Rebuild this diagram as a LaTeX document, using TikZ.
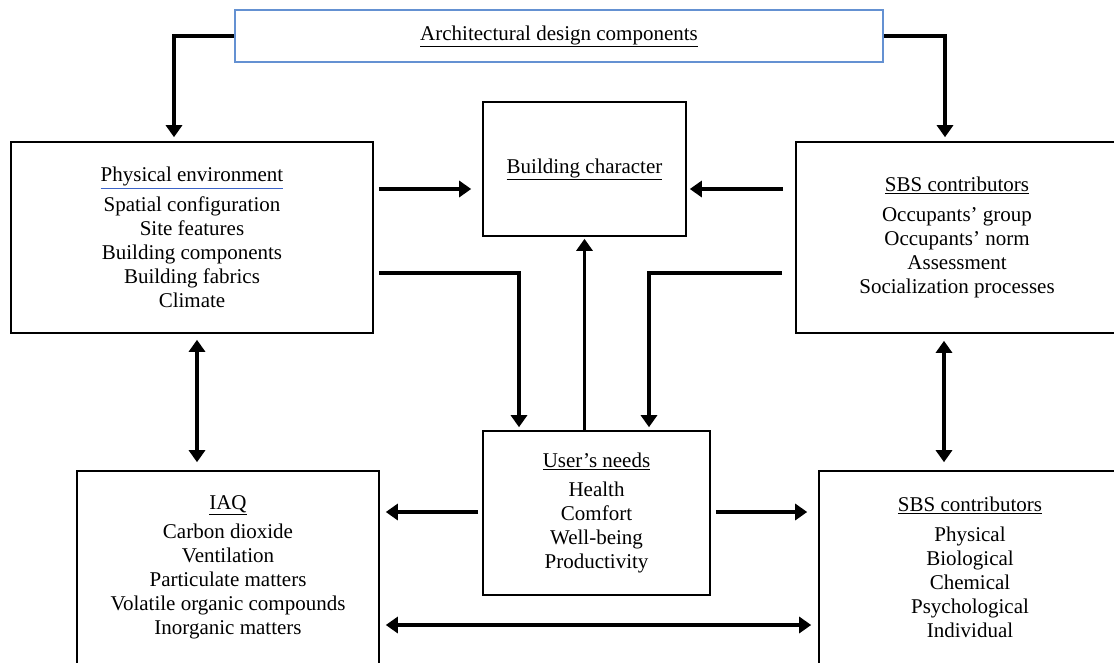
\documentclass[tikz,border=0pt]{standalone}
\usepackage{fontspec}
\setmainfont{Liberation Serif}
\usetikzlibrary{calc, positioning, arrows.meta}
\definecolor{topblue}{RGB}{100,145,210}
\definecolor{linkblue}{RGB}{60,100,200}
\tikzset{
    block/.style={draw, line width=1.6pt, align=center, inner sep=0pt,
        font=\fontsize{21}{24}\selectfont},
    conn/.style={line width=3.6pt, -{Triangle[length=12pt,width=16pt]}},
    twoway/.style={line width=3.6pt, {Triangle[length=12pt,width=16pt]}-{Triangle[length=12pt,width=16pt]}},
}
\newcommand{\heading}[1]{\underline{#1}\\[5.5pt]}

\begin{document}
\begin{tikzpicture}[x=1pt, y=-1pt]
\useasboundingbox (0,0) rectangle (1114,662);

\node[block, draw=topblue, minimum width=648, minimum height=52] (top) at (559,36) {\underline{Architectural design components}};

\node[block, minimum width=362, minimum height=191] (phys) at (192,237.5) {{\color{linkblue}\underline{\color{black}Physical environment}}\\[5.5pt] Spatial configuration\\ Site features\\ Building components\\ Building fabrics\\ Climate};
\node[block, minimum width=203, minimum height=134] (bchar) at (584.5,169) {\underline{Building character}};
\node[block, minimum width=322, minimum height=191] (sbsA) at (957,237.5) {\heading{SBS contributors} Occupants’ group\\ Occupants’ norm\\ Assessment\\ Socialization processes};
\node[block, minimum width=227, minimum height=164] (users) at (596.5,513) {\heading{User’s needs} Health\\ Comfort\\ Well-being\\ Productivity};
\node[block, minimum width=302, minimum height=193] (iaq) at (228,567.5) {\heading{IAQ} Carbon dioxide\\ Ventilation\\ Particulate matters\\ Volatile organic compounds\\ Inorganic matters};
\node[block, minimum width=302, minimum height=193] (sbsB) at (970,567.5) {\heading{SBS contributors} Physical\\ Biological\\ Chemical\\ Psychological\\ Individual};

% from the design components down to both sides
\draw[conn, shorten >=4pt] (top.west) -| (phys.north -| 174,0);
\draw[conn, shorten >=4pt] (top.east) -| (sbsA.north -| 945,0);

% into building character
\draw[conn, shorten <=5pt, shorten >=11pt] (phys.east |- 0,189) -- (bchar.west |- 0,189);
\draw[conn, shorten <=12pt, shorten >=3pt] (sbsA.west |- 0,189) -- (bchar.east |- 0,189);
\draw[conn, shorten >=2pt] (users.north -| bchar.south) -- (bchar.south);

% down to user's needs
\draw[conn, shorten <=5pt, shorten >=3pt] (phys.east |- 0,273) -| (users.north -| 519,0);
\draw[conn, shorten <=13pt, shorten >=3pt] (sbsA.west |- 0,273) -| (users.north -| 649,0);

% out of user's needs
\draw[conn, shorten <=4pt, shorten >=6pt] (users.west |- 0,512) -- (iaq.east |- 0,512);
\draw[conn, shorten <=5pt, shorten >=11pt] (users.east |- 0,512) -- (sbsB.west |- 0,512);

% both ways
\draw[twoway, shorten <=6pt, shorten >=8pt] (phys.south -| 197,0) -- (iaq.north -| 197,0);
\draw[twoway, shorten <=7pt, shorten >=8pt] (sbsA.south -| 944,0) -- (sbsB.north -| 944,0);
\draw[twoway, shorten <=6pt, shorten >=7pt] (iaq.east |- 0,625) -- (sbsB.west |- 0,625);

\end{tikzpicture}
\end{document}
